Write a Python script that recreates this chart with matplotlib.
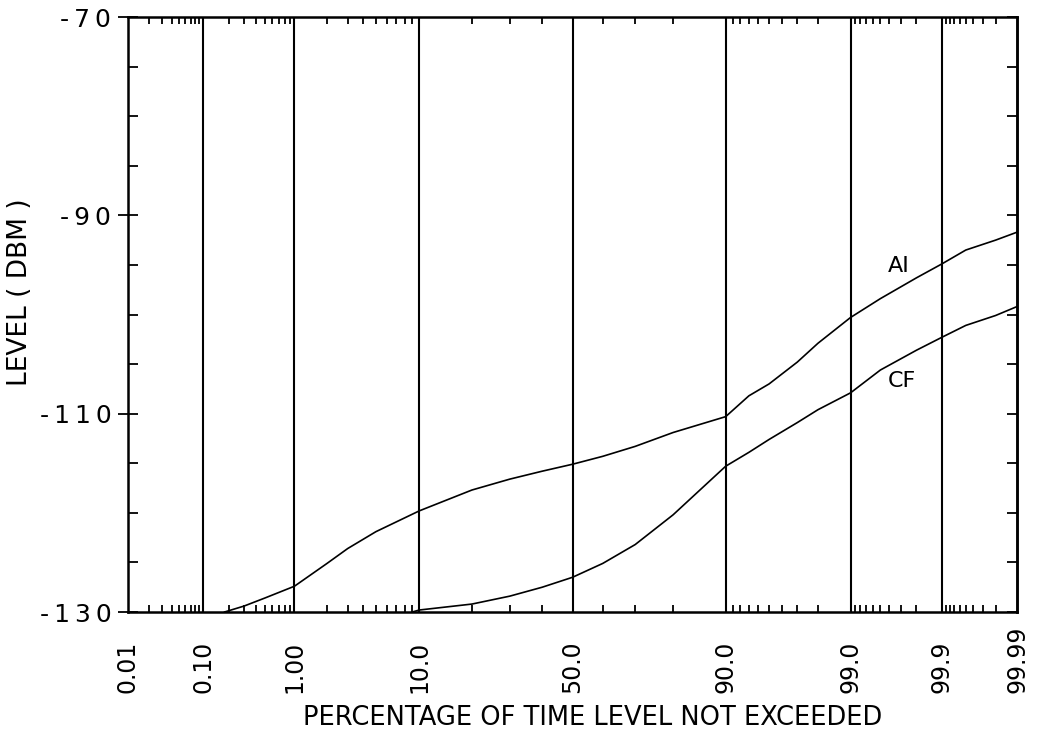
import math
import numpy as np
import matplotlib
matplotlib.use("Agg")
import matplotlib.pyplot as plt
from matplotlib.ticker import FixedLocator, NullFormatter

# ---- data -----------------------------------------------------------------
pct_ai = [0.18, 0.3, 0.5, 1, 2, 3, 5, 10, 20, 30, 40, 50, 60, 70, 80, 90,
          93, 95, 97, 98, 99, 99.5, 99.8, 99.9, 99.95, 99.98, 99.99]
level_ai = [-130.0, -129.4, -128.6, -127.4, -125.1, -123.6, -121.9, -119.8,
            -117.7, -116.6, -115.8, -115.1, -114.3, -113.3, -111.9, -110.3,
            -108.2, -107.0, -104.8, -102.9, -100.3, -98.4, -96.3, -94.9,
            -93.5, -92.5, -91.7]

pct_cf = [9, 10, 20, 30, 40, 50, 60, 70, 80, 90, 93, 95, 97, 98, 99, 99.5,
          99.8, 99.9, 99.95, 99.98, 99.99]
level_cf = [-130.0, -129.8, -129.2, -128.4, -127.5, -126.5, -125.1, -123.2,
            -120.2, -115.3, -113.9, -112.6, -110.9, -109.6, -107.9, -105.6,
            -103.6, -102.3, -101.1, -100.1, -99.2]

x_ticks = [0.01, 0.1, 1, 10, 50, 90, 99, 99.9, 99.99]
x_tick_labels = ["0.01", "0.10", "1.00", "10.0", "50.0", "90.0", "99.0",
                 "99.9", "99.99"]
x_minor = ([k * 0.01 for k in range(2, 10)] + [k * 0.1 for k in range(2, 10)]
           + list(range(2, 10)) + [20, 30, 40, 60, 70, 80]
           + list(range(91, 99)) + [99 + k * 0.1 for k in range(1, 9)]
           + [99.9 + k * 0.01 for k in range(1, 9)])
y_ticks = [-130, -110, -90, -70]
y_minor = [-125, -120, -115, -105, -100, -95, -85, -80, -75]

# ---- normal-probability scale --------------------------------------------
_A = [-3.969683028665376e+01, 2.209460984245205e+02, -2.759285104469687e+02,
      1.383577518672690e+02, -3.066479806614716e+01, 2.506628277459239e+00]
_B = [-5.447609879822406e+01, 1.615858368580409e+02, -1.556989798598866e+02,
      6.680131188771972e+01, -1.328068155288572e+01]
_C = [-7.784894002430293e-03, -3.223964580411365e-01, -2.400758277161838e+00,
      -2.549671010466347e+00, 4.374664141464968e+00, 2.938163982698783e+00]
_D = [7.784695709041462e-03, 3.224671290700398e-01, 2.445134137142996e+00,
      3.754408661907416e+00]


def _ppf_scalar(q):
    q = min(max(q, 1e-12), 1 - 1e-12)
    plow = 0.02425
    if q < plow:
        t = math.sqrt(-2 * math.log(q))
        return ((((((_C[0]*t+_C[1])*t+_C[2])*t+_C[3])*t+_C[4])*t+_C[5]) /
                ((((_D[0]*t+_D[1])*t+_D[2])*t+_D[3])*t+1))
    if q > 1 - plow:
        t = math.sqrt(-2 * math.log(1 - q))
        return -((((((_C[0]*t+_C[1])*t+_C[2])*t+_C[3])*t+_C[4])*t+_C[5]) /
                 ((((_D[0]*t+_D[1])*t+_D[2])*t+_D[3])*t+1))
    u = q - 0.5
    r = u * u
    return ((((((_A[0]*r+_A[1])*r+_A[2])*r+_A[3])*r+_A[4])*r+_A[5])*u /
            (((((_B[0]*r+_B[1])*r+_B[2])*r+_B[3])*r+_B[4])*r+1))


_ppf_vec = np.vectorize(_ppf_scalar, otypes=[float])
_erf_vec = np.vectorize(math.erf, otypes=[float])


def prob_forward(p):
    return _ppf_vec(np.asarray(p, dtype=float) / 100.0)


def prob_inverse(z):
    return 50.0 * (1.0 + _erf_vec(np.asarray(z, dtype=float) / math.sqrt(2)))


# ---- figure ---------------------------------------------------------------
plt.rcParams["font.family"] = ["DejaVu Sans"]
fig = plt.figure(figsize=(10.41, 7.32), dpi=100)
ax = fig.add_axes([128 / 1041, 1 - 612 / 732, (1017 - 128) / 1041,
                   (612 - 17) / 732])

ax.set_xscale("function", functions=(prob_forward, prob_inverse))
ax.set_xlim(0.01, 99.99)
ax.set_ylim(-130, -70)

ax.plot(pct_ai, level_ai, color="black", lw=1.2)
ax.plot(pct_cf, level_cf, color="black", lw=1.2)

# vertical grid lines at the labelled probabilities
for xv in x_ticks[1:-1]:
    ax.axvline(xv, color="black", lw=1.5)

for side in ax.spines.values():
    side.set_linewidth(1.8)

# x axis ticks
ax.xaxis.set_major_locator(FixedLocator(x_ticks))
ax.xaxis.set_minor_locator(FixedLocator(x_minor))
ax.xaxis.set_minor_formatter(NullFormatter())
ax.set_xticks(x_ticks, x_tick_labels)
ax.tick_params(axis="x", which="major", length=0, pad=58, labelsize=17)
ax.tick_params(axis="x", which="minor", direction="in", length=5, width=1.3,
               top=True, bottom=True)
for lab in ax.get_xticklabels():
    lab.set_rotation(90)
    lab.set_va("bottom")
    lab.set_ha("center")

# y axis ticks
ax.set_yticks(y_ticks, ["\u2009".join(str(v)) for v in y_ticks])
ax.yaxis.set_minor_locator(FixedLocator(y_minor))
ax.tick_params(axis="y", which="major", direction="inout", length=14,
               width=1.3, labelsize=18, pad=5)
ax.tick_params(axis="y", which="minor", direction="in", length=7, width=1.3)

sec = ax.secondary_yaxis("right")
sec.set_yticks(sorted(y_ticks + y_minor))
sec.tick_params(direction="in", length=7, width=1.3, labelright=False)
sec.spines["right"].set_linewidth(1.8)

# curve names
ax.text(99.68, -95.1, "AI", ha="center", va="center", fontsize=16)
ax.text(99.71, -106.7, "CF", ha="center", va="center", fontsize=16)

fig.text(593 / 1041, 1 - 718 / 732, "PERCENTAGE OF TIME LEVEL NOT EXCEEDED",
         ha="center", va="center", fontsize=18.5)
fig.text(20 / 1041, 1 - 292 / 732, "LEVEL ( DBM )", rotation=90,
         ha="center", va="center", fontsize=19)

fig.savefig("out.png", dpi=100)
